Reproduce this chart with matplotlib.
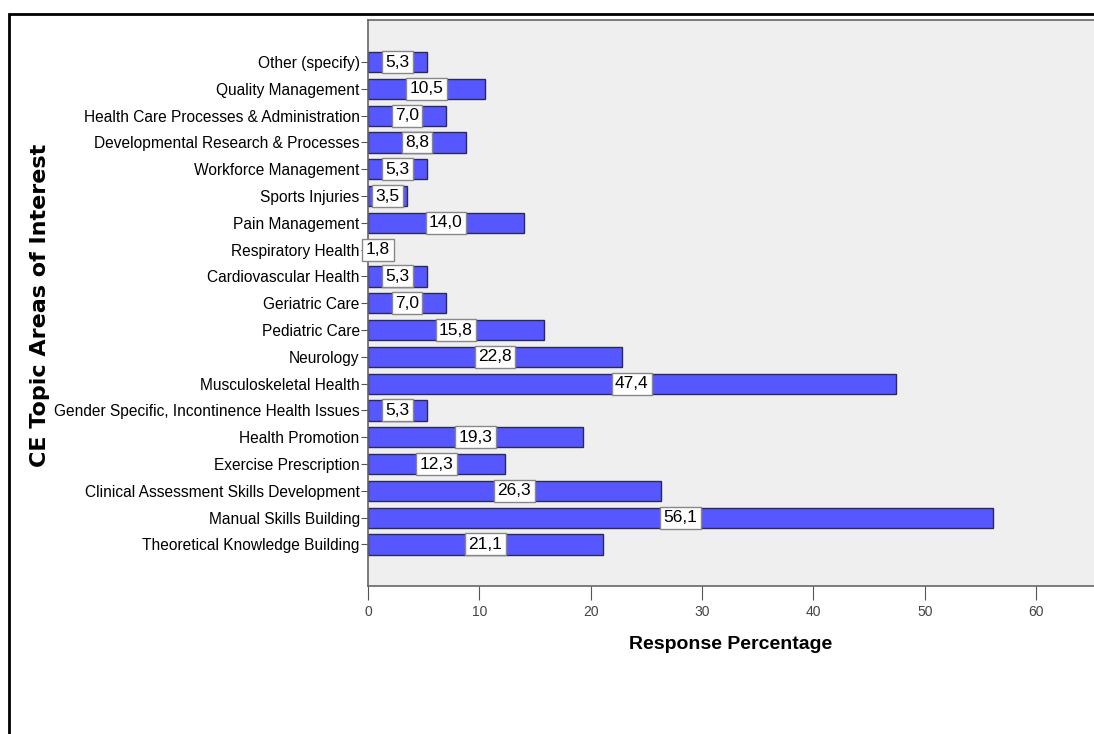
import matplotlib
matplotlib.use('Agg')
import matplotlib.pyplot as plt
from matplotlib.patches import Rectangle

# Categories listed bottom to top, as drawn.
topics = ['Theoretical Knowledge Building', 'Manual Skills Building',
          'Clinical Assessment Skills Development', 'Exercise Prescription',
          'Health Promotion', 'Gender Specific, Incontinence Health Issues',
          'Musculoskeletal Health', 'Neurology', 'Pediatric Care',
          'Geriatric Care', 'Cardiovascular Health', 'Respiratory Health',
          'Pain Management', 'Sports Injuries', 'Workforce Management',
          'Developmental Research & Processes',
          'Health Care Processes & Administration', 'Quality Management',
          'Other (specify)']
percentages = [21.1, 56.1, 26.3, 12.3, 19.3, 5.3, 47.4, 22.8, 15.8, 7.0,
               5.3, 1.8, 14.0, 3.5, 5.3, 8.8, 7.0, 10.5, 5.3]
xTicks = [0, 10, 20, 30, 40, 50, 60]

plt.rcParams['font.family'] = ['Liberation Sans', 'DejaVu Sans']

fig = plt.figure(figsize=(10.94, 7.34), dpi=100)

# Outer chart frame (runs off the right and bottom of the image).
fig.patches.append(Rectangle((9 / 1094, -0.1), 1.2, 1 - 14 / 734 + 0.1, transform=fig.transFigure,
                             fill=False, edgecolor='black', linewidth=2.0, zorder=0))

ax = fig.add_axes([368 / 1094, 1 - 586 / 734, 1 - 368 / 1094, (586 - 20) / 734])
ax.set_facecolor('#EFEFEF')

positions = list(range(len(topics)))
ax.barh(positions, percentages, height=0.75, color='#5757FF', edgecolor='#2A2A55', linewidth=1.0, zorder=2)

# Value labels in white boxes at the middle of each bar.
for pos, val in zip(positions, percentages):
    ax.text(val / 2, pos, '{0:.1f}'.format(val).replace('.', ','), ha='center', va='center',
            fontsize=12.5, color='black', zorder=3,
            bbox=dict(boxstyle='square,pad=0.2', facecolor='white', edgecolor='#888888', linewidth=1.0))

ax.set_xlim(0, 65.2)
ax.set_ylim(-1.55, len(topics) - 1 + 1.57)
ax.set_yticks(positions)
ax.set_yticklabels(topics, fontsize=11.2)
ax.set_xticks(xTicks)
ax.set_xticklabels([str(t) for t in xTicks], fontsize=10, color='#444444')
ax.tick_params(axis='y', length=5, width=0.8, color='#555555', pad=1)
ax.tick_params(axis='x', length=10, width=0.8, color='#555555', pad=4)

for side in ['left', 'bottom', 'top']:
    ax.spines[side].set_color('#666666')
    ax.spines[side].set_linewidth(1.2)
ax.spines['right'].set_visible(False)

ax.set_xlabel('Response Percentage', fontsize=14, fontweight='bold', labelpad=12)
fig.text(40 / 1094, 1 - 305 / 734, 'CE Topic Areas of Interest', rotation=90, ha='center', va='center',
         fontsize=16, fontweight='bold', family=['DejaVu Sans'])

plt.savefig('out.png', dpi=100)
